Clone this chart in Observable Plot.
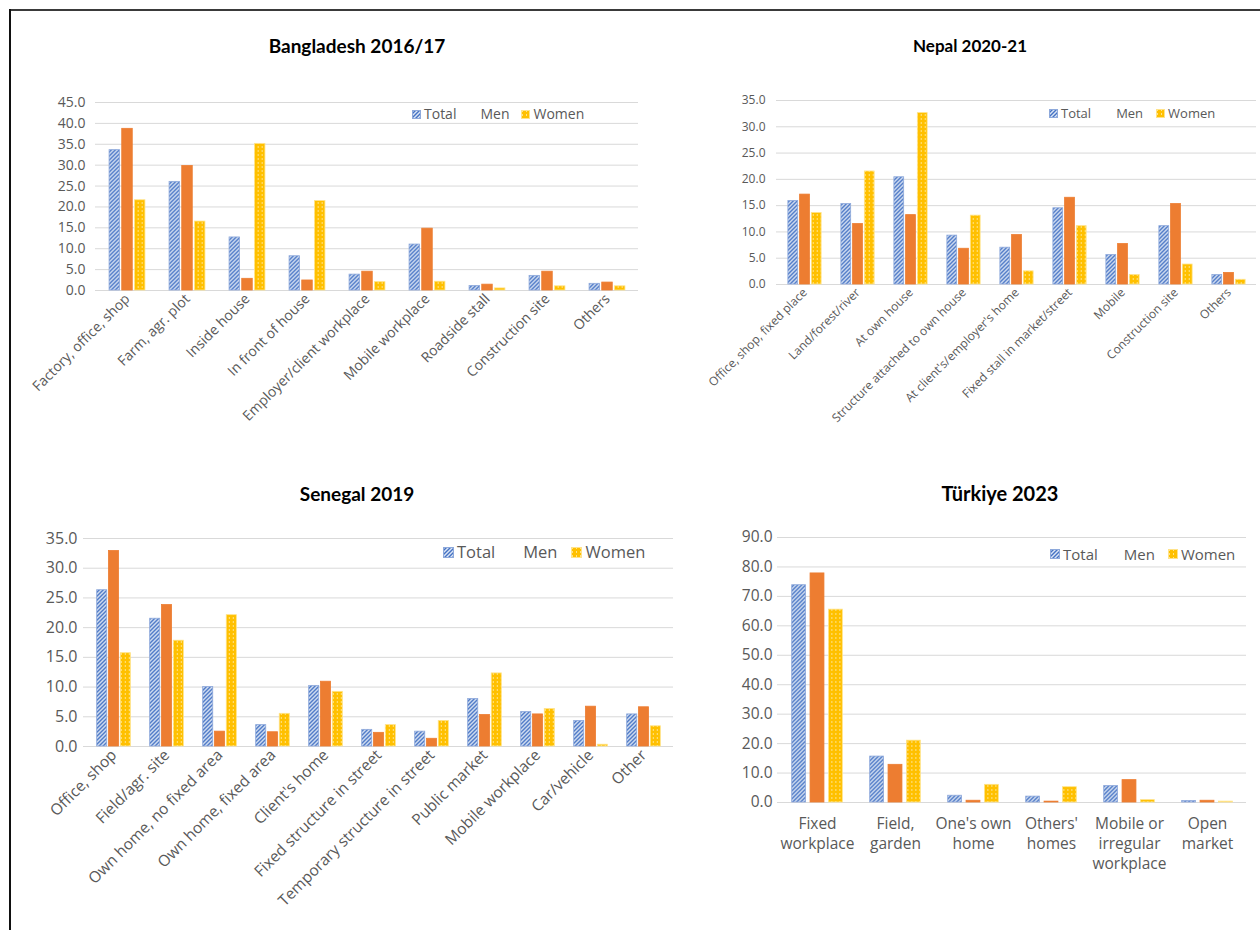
<!DOCTYPE html>
<html><head><meta charset="utf-8">
<script src="https://cdn.jsdelivr.net/npm/d3@7"></script>
<script src="https://cdn.jsdelivr.net/npm/@observablehq/plot@0.6"></script>
<style>
html,body{margin:0;padding:0;background:#fff;}
body{width:1260px;height:930px;position:relative;overflow:hidden;font-family:"Open Sans",sans-serif;}
#frameTop{position:absolute;left:9px;top:9px;width:1251px;height:0;border-top:2.5px solid #3a3a3a}
#frameLeft{position:absolute;left:9px;top:9px;width:0;height:921px;border-left:2.5px solid #111}
.panel-title{position:absolute;font-family:Lato,sans-serif;font-weight:700;color:#000;text-align:center;width:400px;line-height:1}
.legend{position:absolute;display:flex;align-items:center;color:#595959;white-space:nowrap;line-height:1}
.legend .item{display:flex;align-items:center}
.legend svg{display:block}
.chart{position:absolute}
</style></head><body>
<div id="frameTop"></div><div id="frameLeft"></div>
<svg width="0" height="0" style="position:absolute">
<defs>
<pattern id="pTotal" patternUnits="userSpaceOnUse" width="4" height="4">
<rect width="4" height="4" fill="#dbe5f4"/>
<path d="M-1,1 l2,-2 M0,4 l4,-4 M3,5 l2,-2" stroke="#4472C4" stroke-width="1.4"/>
</pattern>
<pattern id="pWomen" patternUnits="userSpaceOnUse" width="4" height="4">
<rect width="4" height="4" fill="#FFC000"/>
<rect x="1" y="0" width="1" height="2" fill="#FFE38A"/>
</pattern>
</defs></svg>
<div id="root"></div>
<script>
const series = ["Total", "Men", "Women"];

// Bangladesh 2016/17
const bdCategories = ["Factory, office, shop", "Farm, agr. plot", "Inside house", "In front of house", "Employer/client workplace", "Mobile workplace", "Roadside stall", "Construction site", "Others"];
const bdTotal = [33.6, 26.0, 12.7, 8.2, 3.8, 11.0, 1.1, 3.5, 1.6];
const bdMen   = [38.7, 29.8, 2.8, 2.4, 4.5, 14.8, 1.4, 4.5, 1.9];
const bdWomen = [21.6, 16.5, 35.1, 21.4, 2.0, 2.1, 0.5, 1.0, 1.0];
const bdTicks = [0, 5, 10, 15, 20, 25, 30, 35, 40, 45];

// Nepal 2020-21
const npCategories = ["Office, shop, fixed place", "Land/forest/river", "At own house", "Structure attached to own house", "At client's/employer's home", "Fixed stall in market/street", "Mobile", "Construction site", "Others"];
const npTotal = [15.9, 15.3, 20.4, 9.3, 7.0, 14.5, 5.6, 11.1, 1.8];
const npMen   = [17.1, 11.5, 13.2, 6.8, 9.4, 16.5, 7.7, 15.3, 2.2];
const npWomen = [13.6, 21.5, 32.6, 13.1, 2.5, 11.1, 1.8, 3.8, 0.9];
const npTicks = [0, 5, 10, 15, 20, 25, 30, 35];

// Senegal 2019
const snCategories = ["Office, shop", "Field/agr. site", "Own home, no fixed area", "Own home, fixed area", "Client's home", "Fixed structure in street", "Temporary structure in street", "Public market", "Mobile workplace", "Car/vehicle", "Other"];
const snTotal = [26.3, 21.5, 10.0, 3.6, 10.2, 2.8, 2.5, 8.0, 5.8, 4.3, 5.4];
const snMen   = [32.9, 23.8, 2.5, 2.4, 10.9, 2.3, 1.3, 5.3, 5.4, 6.7, 6.6];
const snWomen = [15.7, 17.8, 22.1, 5.5, 9.2, 3.6, 4.3, 12.3, 6.3, 0.3, 3.4];
const snTicks = [0, 5, 10, 15, 20, 25, 30, 35];

// Türkiye 2023
const trCategories = ["Fixed\nworkplace", "Field,\ngarden", "One's own\nhome", "Others'\nhomes", "Mobile or\nirregular\nworkplace", "Open\nmarket"];
const trTotal = [73.8, 15.6, 2.3, 2.0, 5.6, 0.5];
const trMen   = [77.8, 12.8, 0.6, 0.3, 7.6, 0.6];
const trWomen = [65.5, 21.0, 6.0, 5.2, 0.8, 0.3];
const trTicks = [0, 10, 20, 30, 40, 50, 60, 70, 80, 90];

const fills = ["url(#pTotal)", "#ED7D31", "url(#pWomen)"];
const strokes = ["#8EA9DB", "#ED7D31", "#FFE38A"];

const root = document.getElementById("root");

function swatch(i, size) {
  if (i === 1) return `<span style="display:inline-block;width:${size}px;height:${size}px"></span>`;
  return `<svg width="${size}" height="${size}"><rect x="0.5" y="0.5" width="${size-1}" height="${size-1}" fill="${fills[i]}" stroke="${strokes[i]}" stroke-width="1"/></svg>`;
}

function panel(cfg) {
  const rows = [];
  cfg.categories.forEach((c, i) => {
    rows.push({cat: c, series: "Total", value: cfg.total[i]});
    rows.push({cat: c, series: "Men", value: cfg.men[i]});
    rows.push({cat: c, series: "Women", value: cfg.women[i]});
  });
  const plotW = cfg.width - cfg.ml - cfg.mr;
  const bw = plotW / cfg.categories.length;
  const barW = bw * cfg.barFrac, step = bw * cfg.stepFrac;
  const inset = (bw - barW) / 2;
  const xAxis = cfg.rotate
    ? Plot.axisX({tickRotate: -45, tickSize: 0, tickPadding: cfg.xPad, fontSize: cfg.xFont, fill: "#595959"})
    : Plot.axisX({tickSize: 0, tickPadding: cfg.xPad, fontSize: cfg.xFont, fill: "#595959", lineHeight: 1.3, lineAnchor: "top"});
  const chart = Plot.plot({
    width: cfg.width,
    height: cfg.height,
    marginLeft: cfg.ml, marginRight: cfg.mr, marginTop: cfg.mt, marginBottom: cfg.mb,
    style: {fontFamily: "'Open Sans', sans-serif", background: "transparent", overflow: "visible"},
    x: {domain: cfg.categories, padding: 0, label: null},
    y: {domain: [0, cfg.yTicks[cfg.yTicks.length - 1]], label: null},
    marks: [
      Plot.ruleY(cfg.yTicks, {stroke: "#d9d9d9", strokeWidth: 1, dx: 0}),
      ...series.map((s, i) => Plot.barY(rows.filter(d => d.series === s), {
        x: "cat", y: "value", fill: fills[i], stroke: strokes[i], strokeWidth: 0.8,
        insetLeft: inset, insetRight: inset, dx: (i - 1) * step
      })),
      Plot.axisY({ticks: cfg.yTicks, tickFormat: d => d.toFixed(1), tickSize: 0, tickPadding: cfg.yPad, fontSize: cfg.yFont, fill: "#595959"}),
      xAxis
    ]
  });
  chart.classList.add("chart");
  chart.style.left = cfg.left + "px";
  chart.style.top = cfg.top + "px";
  root.appendChild(chart);

  const t = document.createElement("div");
  t.className = "panel-title";
  t.textContent = cfg.title;
  t.style.fontSize = cfg.titleFont + "px";
  t.style.left = (cfg.titleX - 200) + "px";
  t.style.top = (cfg.titleY - cfg.titleFont / 2) + "px";
  root.appendChild(t);

  const lg = document.createElement("div");
  lg.className = "legend";
  lg.style.left = cfg.legendX + "px";
  lg.style.top = (cfg.legendY - cfg.legendFont / 2) + "px";
  lg.style.fontSize = cfg.legendFont + "px";
  lg.style.gap = cfg.legendGap + "px";
  lg.innerHTML = series.map((s, i) =>
    `<span class="item" style="gap:${Math.round(cfg.legendFont*0.2)}px">${swatch(i, cfg.swatch)}<span>${s}</span></span>`).join("");
  root.appendChild(lg);
}

panel({title: "Bangladesh 2016/17", titleX: 357, titleY: 45, titleFont: 19,
  categories: bdCategories, total: bdTotal, men: bdMen, women: bdWomen, yTicks: bdTicks,
  left: 20, top: 90, width: 640, height: 350, ml: 75, mr: 22, mt: 12, mb: 150,
  barFrac: 0.18, stepFrac: 0.21, yPad: 10, yFont: 14, xFont: 14, xPad: 6, rotate: true,
  legendX: 412, legendY: 114, legendFont: 14, legendGap: 12, swatch: 9});

panel({title: "Nepal 2020-21", titleX: 970, titleY: 45, titleFont: 17,
  categories: npCategories, total: npTotal, men: npMen, women: npWomen, yTicks: npTicks,
  left: 700, top: 90, width: 560, height: 350, ml: 76, mr: 4, mt: 10, mb: 156,
  barFrac: 0.19, stepFrac: 0.22, yPad: 11, yFont: 12, xFont: 12, xPad: 6, rotate: true,
  legendX: 1049, legendY: 113, legendFont: 13, legendGap: 13, swatch: 9});

panel({title: "Senegal 2019", titleX: 357, titleY: 493, titleFont: 19,
  categories: snCategories, total: snTotal, men: snMen, women: snWomen, yTicks: snTicks,
  left: 20, top: 525, width: 655, height: 395, ml: 63, mr: 2, mt: 13, mb: 174,
  barFrac: 0.2, stepFrac: 0.22, yPad: 6, yFont: 16, xFont: 15.5, xPad: 6, rotate: true,
  legendX: 443, legendY: 552, legendFont: 16.5, legendGap: 14, swatch: 11});

panel({title: "Türkiye 2023", titleX: 1000, titleY: 493, titleFont: 20,
  categories: trCategories, total: trTotal, men: trMen, women: trWomen, yTicks: trTicks,
  left: 700, top: 525, width: 560, height: 355, ml: 77, mr: 14, mt: 12, mb: 78,
  barFrac: 0.18, stepFrac: 0.235, yPad: 5, yFont: 15.5, xFont: 15.5, xPad: 12, rotate: false,
  legendX: 1050, legendY: 554, legendFont: 15, legendGap: 13, swatch: 10});
</script>
</body></html>
